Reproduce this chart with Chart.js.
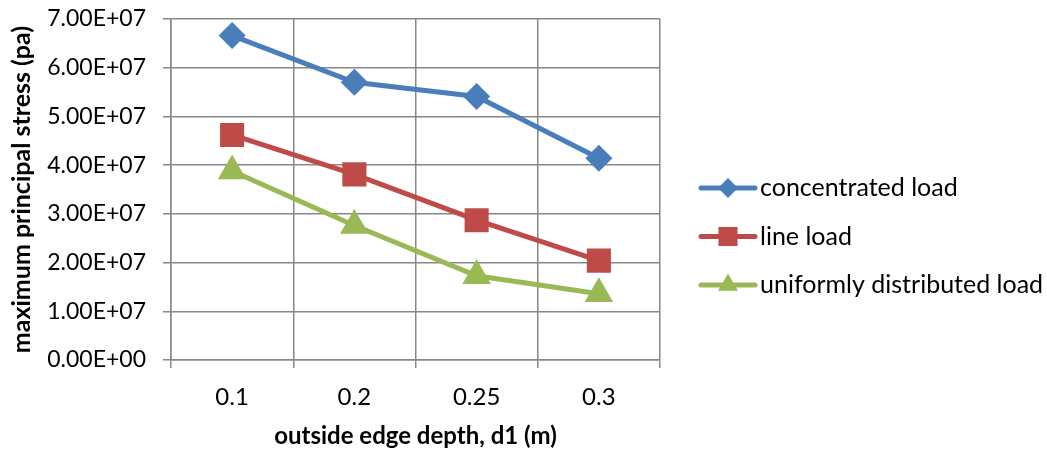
<!DOCTYPE html>
<html lang="en">
<head>
    <meta charset="UTF-8">
    <title>Maximum principal stress vs outside edge depth</title>
    <script src="https://cdn.jsdelivr.net/npm/chart.js"></script>
    <style>
        body { margin: 0; background: #fff; }
        #wrap { width: 1047px; height: 451px; }
    </style>
</head>
<body>
    <div id="wrap"><canvas id="stressChart"></canvas></div>
    <script>
        // values
        const depths = ['0.1', '0.2', '0.25', '0.3'];
        const concentratedLoad = [6.66e7, 5.70e7, 5.41e7, 4.14e7];
        const lineLoad = [4.62e7, 3.81e7, 2.87e7, 2.04e7];
        const uniformLoad = [3.88e7, 2.76e7, 1.73e7, 1.36e7];
        const seriesNames = ['concentrated load', 'line load', 'uniformly distributed load'];

        const FONT = 'Lato, "Liberation Sans", sans-serif';
        const gridColor = '#878787';

        // Excel style exponent labels: 7.00E+07
        function sci(v) {
            const parts = Number(v).toExponential(2).split('e');
            const sign = parts[1][0];
            const exp = parts[1].slice(1).padStart(2, '0');
            return parts[0] + 'E' + sign + exp;
        }

        function marker(ctx, style, x, y, r) {
            ctx.beginPath();
            if (style === 'rectRot') {
                ctx.moveTo(x, y - r); ctx.lineTo(x + r, y); ctx.lineTo(x, y + r); ctx.lineTo(x - r, y);
            } else if (style === 'rect') {
                const s = Math.SQRT1_2 * r;
                ctx.rect(x - s, y - s, 2 * s, 2 * s);
            } else {
                const h = r * Math.sqrt(3) / 2;
                ctx.moveTo(x, y - r); ctx.lineTo(x + h, y + r / 2); ctx.lineTo(x - h, y + r / 2);
            }
            ctx.closePath();
            ctx.fill();
        }

        // legend with a short line through the marker, like Excel
        const lineLegend = {
            id: 'lineLegend',
            afterDraw(chart) {
                const ctx = chart.ctx;
                const x0 = chart.chartArea.right + 41;
                chart.data.datasets.forEach((ds, i) => {
                    const y = 188 + i * 48.5;
                    ctx.save();
                    ctx.strokeStyle = ds.borderColor;
                    ctx.fillStyle = ds.borderColor;
                    ctx.lineWidth = 5;
                    ctx.lineCap = 'round';
                    ctx.beginPath();
                    ctx.moveTo(x0, y);
                    ctx.lineTo(x0 + 54, y);
                    ctx.stroke();
                    marker(ctx, ds.pointStyle, x0 + 27, y, ds.pointRadius);
                    ctx.fillStyle = '#000';
                    ctx.font = '25px ' + FONT;
                    ctx.textBaseline = 'middle';
                    ctx.fillText(ds.label, x0 + 59, y);
                    ctx.restore();
                });
            }
        };

        const ctx = document.getElementById('stressChart').getContext('2d');
        new Chart(ctx, {
            type: 'line',
            data: {
                labels: depths,
                datasets: [
                    { label: seriesNames[0], data: concentratedLoad, borderColor: '#4A7EBB', backgroundColor: '#4A7EBB',
                      pointStyle: 'rectRot', pointRadius: 10, borderWidth: 5 },
                    { label: seriesNames[1], data: lineLoad, borderColor: '#BE4B48', backgroundColor: '#BE4B48',
                      pointStyle: 'rect', pointRadius: 13.5, borderWidth: 5 },
                    { label: seriesNames[2], data: uniformLoad, borderColor: '#98B954', backgroundColor: '#98B954',
                      pointStyle: 'triangle', pointRadius: 11.5, borderWidth: 5 }
                ]
            },
            options: {
                responsive: true,
                maintainAspectRatio: false,
                animation: false,
                layout: { padding: { top: 19, right: 387, left: 0, bottom: 0 } },
                elements: {
                    line: { tension: 0 },
                    point: { borderWidth: 0, hoverRadius: 10 }
                },
                plugins: {
                    legend: { display: false },
                    tooltip: { enabled: false }
                },
                scales: {
                    x: {
                        offset: true,
                        grid: { offset: true, color: gridColor, lineWidth: 1.5, tickLength: 8 },
                        border: { color: gridColor, width: 1.5 },
                        ticks: { color: '#000', padding: 15, font: { family: FONT, size: 24 } },
                        title: {
                            display: true, text: 'outside edge depth, d1 (m)', color: '#000',
                            font: { family: FONT, size: 24, weight: 'bold' }, padding: { top: 0, bottom: 0 }
                        },
                        afterFit(scale) { scale.height = 91; }
                    },
                    y: {
                        min: 0,
                        max: 7e7,
                        ticks: { stepSize: 1e7, color: '#000', padding: 17, font: { family: FONT, size: 23 }, callback: sci },
                        grid: { color: gridColor, lineWidth: 1.5, tickLength: 8 },
                        border: { color: gridColor, width: 1.5 },
                        title: {
                            display: true, text: 'maximum principal stress (pa)', color: '#000',
                            font: { family: FONT, size: 25, weight: 'bold' }, padding: { top: 7, bottom: 0 }
                        },
                        afterFit(scale) {
                            scale.width = 171;
                            scale.paddingTop = 0;
                        }
                    }
                }
            },
            plugins: [lineLegend]
        });
    </script>
</body>
</html>
